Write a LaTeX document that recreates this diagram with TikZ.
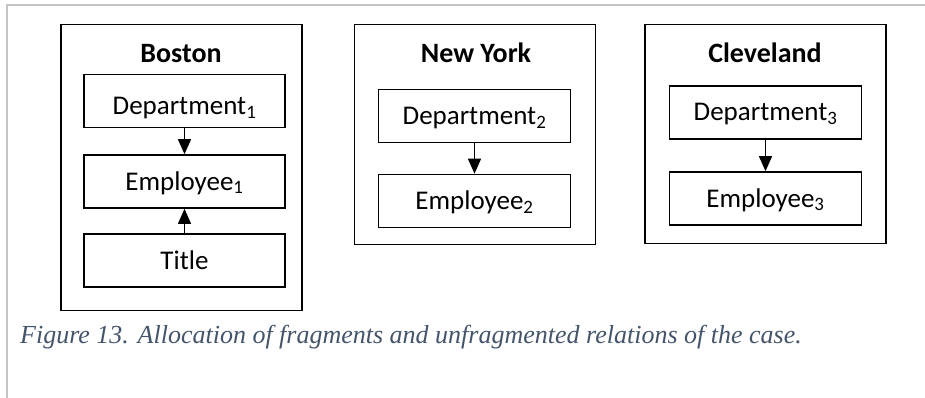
\documentclass[tikz,border=0pt]{standalone}
\usepackage{fontspec}
\setmainfont{Carlito}
\newfontfamily\capfont{Liberation Serif}
\usetikzlibrary{arrows.meta}
\definecolor{capblue}{HTML}{44546A}
\definecolor{framegray}{HTML}{C4C4C4}
\tikzset{
  site/.style={draw,line width=1.8pt,minimum width=241pt,inner sep=0pt},
  rel/.style={draw,line width=1.6pt,minimum width=201pt,minimum height=53pt,
    inner sep=0pt,text height=17pt,text depth=0pt,font=\fontsize{27}{31}\selectfont},
  sitename/.style={anchor=base,font=\fontsize{28}{32}\selectfont\bfseries},
  arr/.style={line width=1.3pt,-{Triangle[width=13pt,length=15pt]}}
}
\begin{document}
\begin{tikzpicture}[x=1pt,y=-1pt]
\useasboundingbox (0,0) rectangle (925,398);
% page frame
\draw[framegray,line width=2pt] (7,398) -- (7,5) -- (925,5);
% Boston
\node[site,minimum height=286pt] (boston) at (181.5,167.5) {};
\node[sitename] (bostonname) at (181,63) {Boston};
\node[rel,text height=28pt] (dept1) at (184.5,101) {Department\textsubscript{1}};
\node[rel] (emp1) at (184.5,181.5) {Employee\textsubscript{1}};
\node[rel] (title) at (184.5,260.5) {Title};
\draw[arr] (dept1) -- (emp1);
\draw[arr] (title) -- (emp1);
% New York
\node[site,minimum height=220pt] (newyork) at (475,134.5) {};
\node[sitename] (newyorkname) at (476,63) {New York};
\node[rel,minimum width=192pt] (dept2) at (474.5,116) {Department\textsubscript{2}};
\node[rel,minimum width=192pt] (emp2) at (474.5,201) {Employee\textsubscript{2}};
\draw[arr] (dept2) -- (emp2);
% Cleveland
\node[site,minimum height=219pt] (cleveland) at (765.5,134) {};
\node[sitename] (clevelandname) at (765,63) {Cleveland};
\node[rel,minimum width=192pt] (dept3) at (765.5,112.5) {Department\textsubscript{3}};
\node[rel,minimum width=192pt] (emp3) at (765.5,198.5) {Employee\textsubscript{3}};
\draw[arr] (dept3) -- (emp3);
% caption
\node[anchor=base west,inner sep=0pt,text=capblue,font=\capfont\itshape\fontsize{26}{30}\selectfont] (caption) at (20,343)
  {Figure 13. Allocation of fragments and unfragmented relations of the case.};
\end{tikzpicture}
\end{document}
